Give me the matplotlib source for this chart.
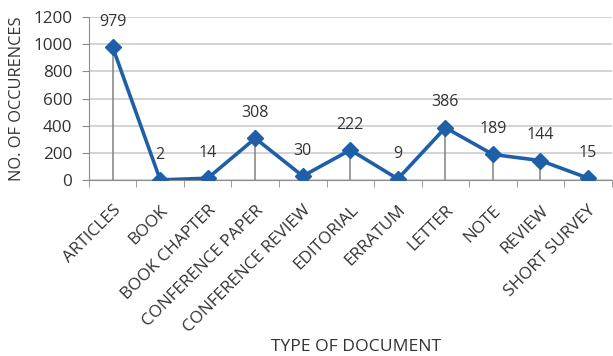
import matplotlib.pyplot as plt
import numpy as np

plt.rcParams['font.family'] = ['Open Sans', 'DejaVu Sans']

doc_types = ["ARTICLES", "BOOK", "BOOK CHAPTER", "CONFERENCE PAPER",
             "CONFERENCE REVIEW", "EDITORIAL", "ERRATUM", "LETTER",
             "NOTE", "REVIEW", "SHORT SURVEY"]
occurrences = [979, 2, 14, 308, 30, 222, 9, 386, 189, 144, 15]

line_color = "#1f5fa8"
grid_color = "#c8c8c8"
axis_color = "#8c8c8c"
text_color = "#333333"

fig = plt.figure(figsize=(6.13, 3.56), dpi=100)
ax = fig.add_axes([0.145, 0.494, 0.853, 0.458])

x = np.arange(len(doc_types))

# drop lines from each point down to the category axis
ax.vlines(x, 0, occurrences, color="#808080", lw=1.1, zorder=2)
ax.plot(x, occurrences, color=line_color, lw=2.6, marker="D",
        markersize=8, zorder=3)

for xi, v in zip(x, occurrences):
    ax.annotate(str(v), (xi, v), xytext=(0, 12.5), textcoords="offset points",
                ha="center", va="bottom", fontsize=11.5, color=text_color)

ax.set_xlim(-0.5, len(doc_types) - 0.5)
ax.set_ylim(0, 1200)
ax.set_yticks(range(0, 1201, 200))
ax.yaxis.grid(True, color=grid_color, lw=1.1)
ax.set_axisbelow(True)

ax.set_xticks(x)
ax.set_xticklabels(doc_types, rotation=45, ha="right", rotation_mode="anchor",
                   fontsize=12.3, color=text_color)
ax.set_xticks(np.arange(-0.5, len(doc_types)), minor=True)
ax.tick_params(axis="x", which="major", length=0, pad=16)
ax.tick_params(axis="x", which="minor", length=5, color=axis_color)
ax.tick_params(axis="y", length=5, color=axis_color, labelsize=12.3,
               labelcolor=text_color, pad=7)

for side in ("top", "right"):
    ax.spines[side].set_visible(False)
for side in ("left", "bottom"):
    ax.spines[side].set_color(axis_color)

ax.set_ylabel("NO. OF OCCURENCES", fontsize=11.8, color=text_color, labelpad=6)
fig.text(0.58, 0.025, "TYPE OF DOCUMENT", ha="center", va="center",
         fontsize=12.6, color=text_color)

fig.savefig("out.png", dpi=100)
